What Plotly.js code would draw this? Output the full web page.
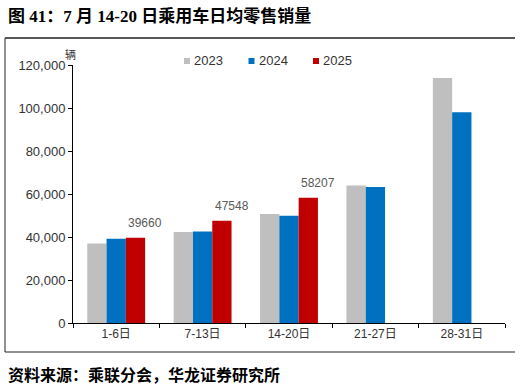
<!DOCTYPE html>
<html><head><meta charset="utf-8">
<script src="https://cdn.plot.ly/plotly-3.0.1.min.js"></script>
<style>html,body{margin:0;padding:0;background:#fff}#c{width:521px;height:392px}</style>
</head><body><div id="c"></div>
<script>
const categories = ["1-6日", "7-13日", "14-20日", "21-27日", "28-31日"];
const seriesNames = ["2023", "2024", "2025"];
const v2023 = [37000, 42300, 50700, 64000, 114000];
const v2024 = [39200, 42600, 49900, 63300, 98000];
const v2025 = [39660, 47548, 58207, null, null];
const colors = ["#BFBFBF", "#0070C0", "#C00000"];

const L = 73, R = 505, T = 65, B = 323;
const W = R - L, H = B - T;
const px = x => (x - L) / W;
const py = y => (B - y) / H;

const cjk = 'Liberation Sans, "Noto Sans CJK SC", sans-serif';
const serif = 'Liberation Serif, "Noto Sans CJK SC", serif';

const vals = [v2023, v2024, v2025];
const traces = vals.map((v, i) => ({type: 'bar', x: categories, y: v, name: seriesNames[i],
    marker: {color: colors[i]}, showlegend: false, hoverinfo: 'skip'}));

const annotations = [
  {text: '<b>图 41：7 月 14-20 日乘用车日均零售销量</b>', xref: 'paper', yref: 'paper',
   x: px(6), y: py(16), xanchor: 'left', yanchor: 'middle', showarrow: false,
   font: {family: serif, size: 17, color: '#000'}},
  {text: '<b>资料来源：乘联分会，华龙证券研究所</b>', xref: 'paper', yref: 'paper',
   x: px(6), y: py(375), xanchor: 'left', yanchor: 'middle', showarrow: false,
   font: {family: serif, size: 16, color: '#000'}},
  {text: '辆', xref: 'paper', yref: 'paper', x: px(70), y: py(55), xanchor: 'center', yanchor: 'middle',
   showarrow: false, font: {family: cjk, size: 11, color: '#333'}}
];
v2025.forEach((v, i) => {
  if (v === null) return;
  annotations.push({text: String(v), x: categories[i], y: v, xref: 'x', yref: 'y',
    xshift: 29, yshift: 6, yanchor: 'bottom', xanchor: 'center', showarrow: false,
    font: {family: cjk, size: 12, color: '#595959'}});
});

const shapes = [
  {type: 'line', xref: 'paper', yref: 'paper', x0: px(5), x1: px(515), y0: py(38), y1: py(38), line: {color: '#222', width: 1.5}},
  {type: 'line', xref: 'paper', yref: 'paper', x0: px(5), x1: px(5), y0: py(38), y1: py(352), line: {color: '#222', width: 1}},
  {type: 'line', xref: 'paper', yref: 'paper', x0: px(5), x1: px(515), y0: py(352), y1: py(352), line: {color: '#222', width: 1}}
];

// custom legend
const legendX0 = 187, legendStep = 64.5, legendY = 61;
seriesNames.forEach((n, i) => {
  const cx = legendX0 + i * legendStep;
  shapes.push({type: 'rect', xref: 'paper', yref: 'paper', x0: px(cx - 3), x1: px(cx + 3),
    y0: py(legendY + 3), y1: py(legendY - 3), line: {width: 0}, fillcolor: colors[i]});
  annotations.push({text: n, xref: 'paper', yref: 'paper', x: px(cx + 5), y: py(legendY),
    xanchor: 'left', yanchor: 'middle', showarrow: false,
    font: {family: cjk, size: 13, color: '#333'}});
});

const layout = {
  width: 521, height: 392,
  margin: {l: L, r: 521 - R, t: T, b: 392 - B, pad: 0},
  paper_bgcolor: '#fff', plot_bgcolor: '#fff',
  barmode: 'group', bargap: 0.33, bargroupgap: 0,
  font: {family: cjk, size: 12, color: '#333'},
  showlegend: false,
  xaxis: {type: 'category', showline: true, linecolor: '#000', linewidth: 1,
    ticks: 'outside', tickson: 'boundaries', ticklen: 4, tickcolor: '#000',
    showgrid: false, zeroline: false, tickfont: {family: cjk, size: 12, color: '#333'}, fixedrange: true},
  yaxis: {range: [0, 120000], dtick: 20000, tickformat: ',', showline: true, linecolor: '#000', linewidth: 1,
    ticks: 'outside', ticklen: 4, tickcolor: '#000', showgrid: false, zeroline: false,
    tickfont: {family: cjk, size: 13, color: '#333'}, fixedrange: true},
  annotations: annotations, shapes: shapes
};

Plotly.newPlot('c', traces, layout, {displayModeBar: false, staticPlot: true});
</script></body></html>
